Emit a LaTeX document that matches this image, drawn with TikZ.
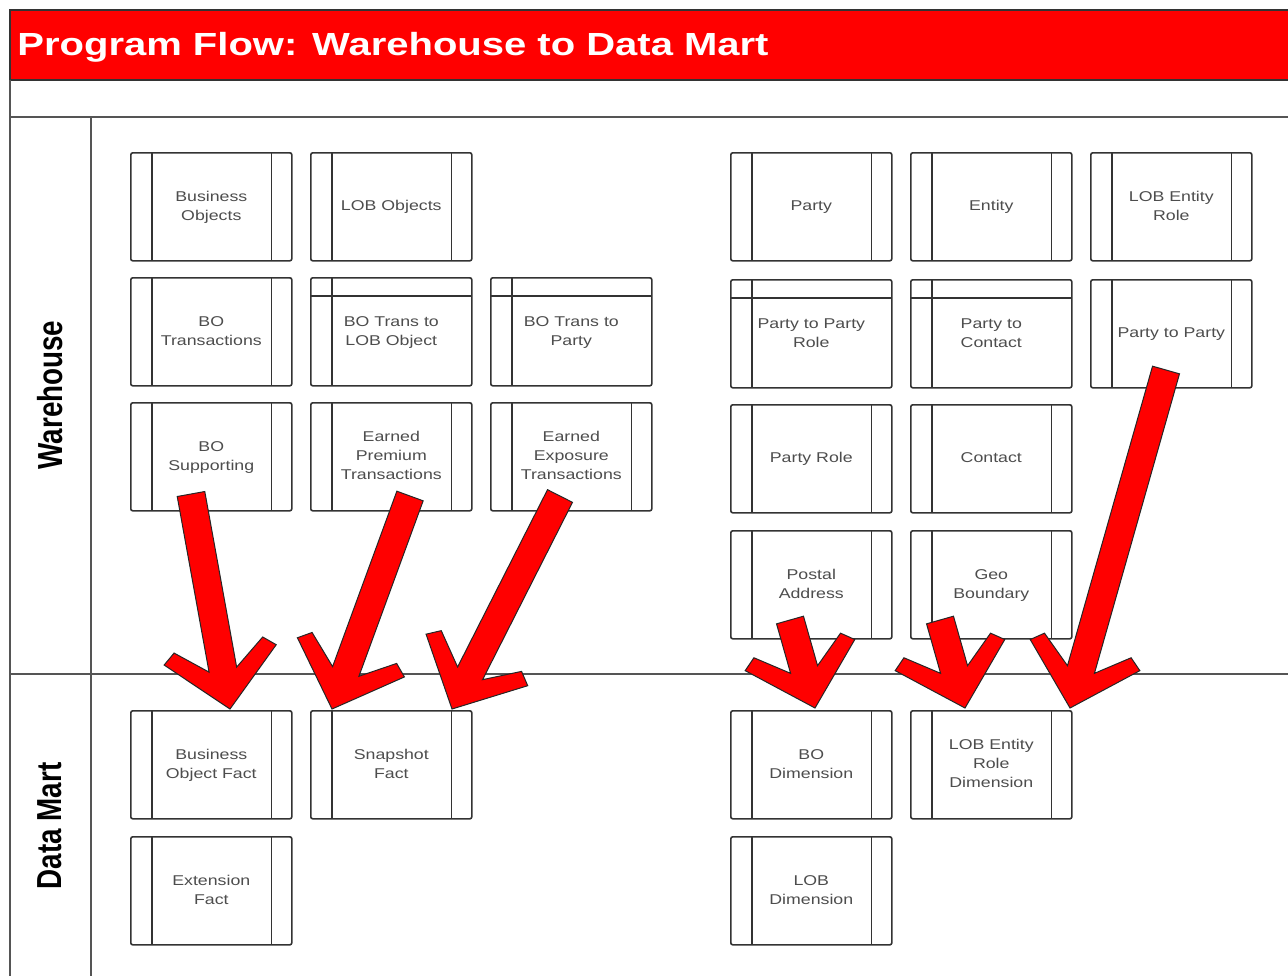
\documentclass[tikz,border=0pt]{standalone}
\usepackage{fontspec}
\setmainfont{Liberation Sans}
\usetikzlibrary{calc}
\definecolor{hdr}{HTML}{FF0000}
\definecolor{txt}{HTML}{4D4D4D}
\definecolor{edge}{HTML}{333333}
\definecolor{lanec}{HTML}{555555}
\newcommand\bt[1]{\scalebox{1.25}[1]{\fontsize{7.1}{9.5}\selectfont\begin{tabular}{@{}c@{}}#1\end{tabular}}}
\newcommand\blockarrow[2]{%
  \draw[blockarr] ($(#1)!7pt!90:(#2)$) -- ($(#2)!21.2pt!-19.3:(#1)$) -- ($(#2)!39.55pt!-34.7:(#1)$)
   -- ($(#2)!39.6pt!-46:(#1)$) -- (#2) -- ($(#2)!39.6pt!46:(#1)$) -- ($(#2)!39.55pt!34.7:(#1)$)
   -- ($(#2)!21.2pt!19.3:(#1)$) -- ($(#1)!7pt!-90:(#2)$) -- cycle;}
\tikzset{
  tblbox/.style={draw=edge, line width=0.8pt, rounded corners=1pt, minimum width=80.5pt,
    minimum height=54pt, inner sep=0pt, anchor=north west, text=txt,
    path picture={
      \draw[edge, line width=0.8pt] ([xshift=10.5pt]path picture bounding box.north west) -- ([xshift=10.5pt]path picture bounding box.south west);
      \draw[edge, line width=0.8pt] ([xshift=-10.25pt]path picture bounding box.north east) -- ([xshift=-10.25pt]path picture bounding box.south east);
    }},
  bandbox/.style={tblbox,
    path picture={
      \draw[edge, line width=0.8pt] ([xshift=10.5pt]path picture bounding box.north west) -- ([xshift=10.5pt]path picture bounding box.south west);
      \draw[edge, line width=0.8pt] ([yshift=-9pt]path picture bounding box.north west) -- ([yshift=-9pt]path picture bounding box.north east);
    }},
  laneline/.style={draw=lanec, line width=0.8pt},
  blockarr/.style={fill=hdr, draw=black!85, line width=0.5pt, line join=miter},
  lanelabel/.style={rotate=90, inner sep=0pt, font=\bfseries\fontsize{13.9}{16}\selectfont}
}
\begin{document}
\begin{tikzpicture}[x=0.5pt, y=-0.5pt]
\useasboundingbox (0,0) rectangle (1288,975);
\clip (0,0) rectangle (1288,975);
\fill[white] (0,0) rectangle (1288,975);
% frame
\draw[fill=hdr, draw=edge, line width=0.8pt] (10,10) rectangle (1300,80);
\node[anchor=base west, text=white, inner sep=0pt, font=\bfseries\fontsize{16}{19}\selectfont] (title) at (17,55) {\scalebox{1.25}[1]{Program Flow: Warehouse to Data Mart}};
\draw[laneline] (10,80) -- (10,990);
\draw[laneline] (10,117) -- (1300,117);
\draw[laneline] (10,674) -- (1300,674);
\draw[laneline] (91,117) -- (91,990);
\node[lanelabel] (wh) at (50,395) {\scalebox{1}[1.25]{Warehouse}};
\node[lanelabel] (dm) at (50,826) {\scalebox{1}[1.25]{Data Mart}};
% warehouse left
\node[tblbox] (bobj) at (130,152) {\bt{Business\\Objects}};
\node[tblbox] (lobobj) at (310,152) {\bt{LOB Objects}};
\node[tblbox] (botr) at (130,277) {\bt{BO\\Transactions}};
\node[bandbox] (botlob) at (310,277) {\bt{BO Trans to\\LOB Object}};
\node[bandbox] (botparty) at (490,277) {\bt{BO Trans to\\Party}};
\node[tblbox] (bosup) at (130,402) {\bt{BO\\Supporting}};
\node[tblbox] (eprem) at (310,402) {\bt{Earned\\Premium\\Transactions}};
\node[tblbox] (eexp) at (490,402) {\bt{Earned\\Exposure\\Transactions}};
% warehouse right
\node[tblbox] (party) at (730,152) {\bt{Party}};
\node[tblbox] (entity) at (910,152) {\bt{Entity}};
\node[tblbox] (lobrole) at (1090,152) {\bt{LOB Entity\\Role}};
\node[bandbox] (p2prole) at (730,279) {\bt{Party to Party\\Role}};
\node[bandbox] (p2contact) at (910,279) {\bt{Party to\\Contact}};
\node[tblbox] (p2p) at (1090,279) {\bt{Party to Party}};
\node[tblbox] (prole) at (730,404) {\bt{Party Role}};
\node[tblbox] (contact) at (910,404) {\bt{Contact}};
\node[tblbox] (postal) at (730,530) {\bt{Postal\\Address}};
\node[tblbox] (geo) at (910,530) {\bt{Geo\\Boundary}};
% data mart
\node[tblbox] (bof) at (130,710) {\bt{Business\\Object Fact}};
\node[tblbox] (snap) at (310,710) {\bt{Snapshot\\Fact}};
\node[tblbox] (ext) at (130,836) {\bt{Extension\\Fact}};
\node[tblbox] (bodim) at (730,710) {\bt{BO\\Dimension}};
\node[tblbox] (lobdimr) at (910,710) {\bt{LOB Entity\\Role\\Dimension}};
\node[tblbox] (lobdim) at (730,836) {\bt{LOB\\Dimension}};
% arrow ends
\coordinate (s1) at (191,494); \coordinate (e1) at (230,709);
\coordinate (s2) at (410,496); \coordinate (e2) at (332,709);
\coordinate (s3) at (560,496); \coordinate (e3) at (452,709);
\coordinate (s4) at (790,620); \coordinate (e4) at (815,708);
\coordinate (s5) at (940,620); \coordinate (e5) at (965,708);
\coordinate (s6) at (1166,370); \coordinate (e6) at (1070,708);
\blockarrow{s1}{e1}
\blockarrow{s2}{e2}
\blockarrow{s3}{e3}
\blockarrow{s4}{e4}
\blockarrow{s5}{e5}
\blockarrow{s6}{e6}
\end{tikzpicture}
\end{document}
